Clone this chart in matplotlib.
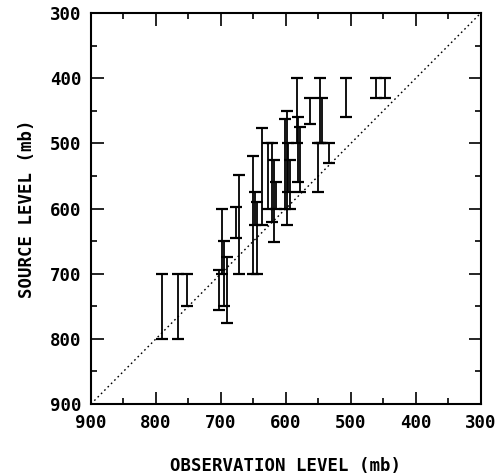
#!/usr/bin/env python3
"""Source level vs observation level with error bars."""

import matplotlib
matplotlib.use("Agg")
import matplotlib.pyplot as plt
import numpy as np

# observation level (mb) and source-level range (top, bottom) in mb
obs_level = [790, 766, 752, 703, 698, 695, 691, 677, 672, 650, 648, 645,
             637, 627, 622, 618, 615, 599, 601, 596, 594, 583, 582, 579,
             563, 551, 548, 544, 533, 507, 462, 448]
src_top = [700, 700, 700, 695, 600, 650, 675, 597, 548, 520, 575, 590,
           477, 500, 500, 525, 560, 450, 462, 500, 525, 400, 460, 475,
           430, 500, 400, 430, 500, 400, 400, 400]
src_bot = [800, 800, 750, 755, 700, 750, 775, 645, 700, 700, 625, 700,
           625, 600, 620, 651, 600, 625, 600, 575, 600, 500, 560, 575,
           470, 575, 500, 500, 530, 460, 430, 430]

ticks = [900, 800, 700, 600, 500, 400, 300]

plt.rcParams['font.family'] = ['DejaVu Sans Mono']
plt.rcParams['font.weight'] = 'bold'

fig = plt.figure(figsize=(5.01, 4.75), dpi=100)
ax = fig.add_axes([0.1816, 0.1495, 0.778, 0.823])

top = np.array(src_top, dtype=float)
bot = np.array(src_bot, dtype=float)
mid = (top + bot) / 2
half = (bot - top) / 2
ax.errorbar(obs_level, mid, yerr=half, fmt='none', ecolor='black',
            elinewidth=1.3, capsize=4.4, capthick=1.6)

# 1:1 line
ax.plot([900, 300], [900, 300], color='black', linestyle=(0, (1.2, 2.2)),
        linewidth=1.0)

ax.set_xlim(900, 300)
ax.set_ylim(900, 300)
ax.set_xticks(ticks)
ax.set_yticks(ticks)
ax.set_xticks(np.arange(850, 300, -100), minor=True)
ax.set_yticks(np.arange(850, 300, -100), minor=True)
ax.tick_params(which='both', direction='in', top=True, right=True,
               width=1.2, labelsize=12.5)
ax.tick_params(which='major', length=9, pad=7)
ax.tick_params(which='minor', length=4.5)
for s in ax.spines.values():
    s.set_linewidth(1.5)

ax.set_xlabel('OBSERVATION LEVEL (mb)', fontsize=12.5, fontweight='bold',
              labelpad=18)
ax.set_ylabel('SOURCE LEVEL (mb)', fontsize=12.5, fontweight='bold',
              labelpad=10)

fig.savefig('out.png', dpi=100)
